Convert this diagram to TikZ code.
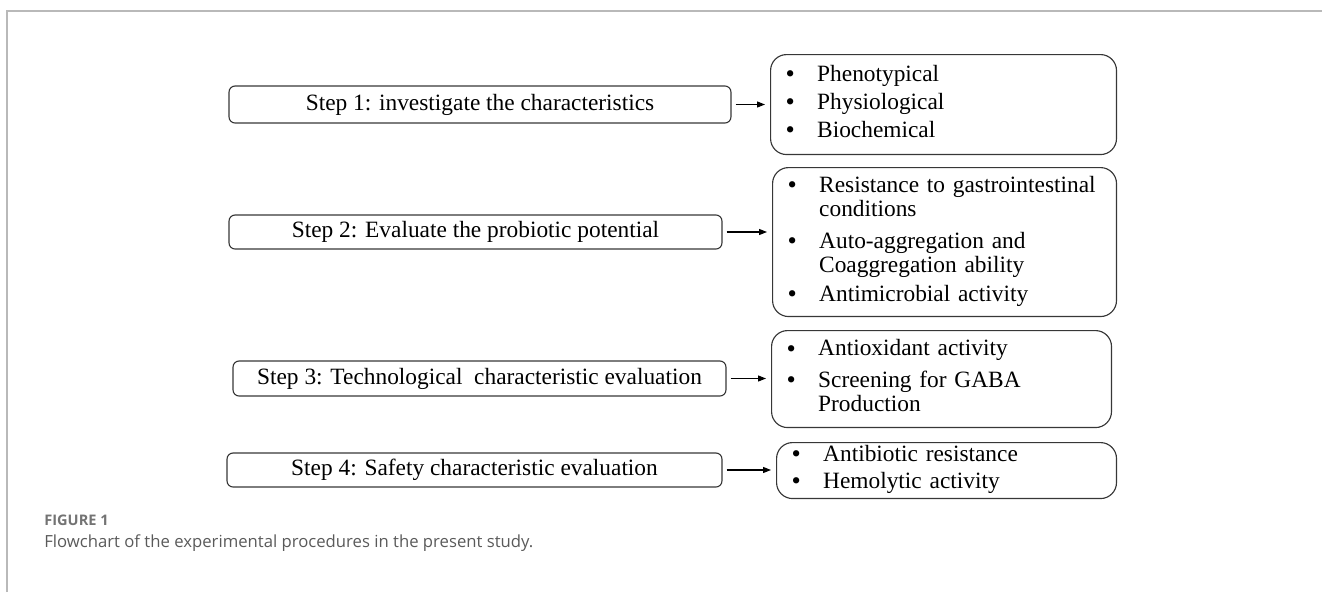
\documentclass[tikz,border=0pt]{standalone}
\usepackage{fontspec}
\setmainfont{Liberation Serif}
\newfontfamily\capfont{Open Sans}
\usepackage{tikz}
\usetikzlibrary{arrows.meta, positioning}
\definecolor{boxline}{RGB}{55, 55, 55}
\definecolor{frameline}{RGB}{185, 185, 185}
\definecolor{captext}{RGB}{90, 90, 90}
\newcommand{\stepfont}{\fontsize{13.3}{13.6}\selectfont}
\newcommand{\bul}{\raisebox{-0.6pt}{\fontsize{15}{13.6}\selectfont\textbullet}}

\begin{document}
\begin{tikzpicture}[x=0.02cm, y=-0.02cm,
    stepbox/.style={draw=boxline, line width=0.65pt, rounded corners=0.12cm, inner sep=0pt, font=\stepfont},
    listbox/.style={draw=boxline, line width=0.65pt, rounded corners=0.32cm, anchor=north west, align=left, inner xsep=0.3cm, inner ysep=0pt, font=\stepfont},
    link/.style={line width=0.6pt, -{Triangle[length=0.16cm, width=0.12cm]}, shorten <=0.08cm, shorten >=0.1cm}
]
    \useasboundingbox (0,0) rectangle (1322,592);
    \draw[frameline, line width=1pt] (7,592) -- (7,11) -- (1322,11);

    \node[stepbox, minimum width=10.04cm, minimum height=0.74cm] (s1) at (480,104.5) {Step 1: investigate the characteristics\hspace{20pt}};
    \node[stepbox, minimum width=9.86cm, minimum height=0.68cm] (s2) at (475.5,232) {Step 2: Evaluate the probiotic potential\hspace{12pt}};
    \node[stepbox, minimum width=9.86cm, minimum height=0.70cm] (s3) at (479.5,378.5) {Step 3: Technological\ \ characteristic evaluation\hspace{8pt}};
    \node[stepbox, minimum width=9.90cm, minimum height=0.68cm] (s4) at (474.5,470) {Step 4: Safety characteristic evaluation\hspace{12pt}};

    \node[listbox, text width=6.32cm, minimum height=2.00cm] (r1) at (770,54) {%
        \begin{tabular}{@{}p{18pt}@{}l@{}}
        \bul & Phenotypical\\[2.3pt]
        \bul & Physiological\\[2.3pt]
        \bul & Biochemical
        \end{tabular}};
    \node[listbox, text width=6.28cm, minimum height=2.98cm] (r2) at (772,167) {%
        \begin{tabular}{@{}p{18pt}@{}l@{}}
        \bul & Resistance to gastrointestinal\\
         & conditions\\[4.5pt]
        \bul & Auto-aggregation and\\
         & Coaggregation ability\\[2.8pt]
        \bul & Antimicrobial activity
        \end{tabular}};
    \node[listbox, text width=6.20cm, minimum height=1.94cm] (r3) at (771,330) {%
        \begin{tabular}{@{}p{18pt}@{}l@{}}
        \bul & Antioxidant activity\\[4.5pt]
        \bul & Screening for GABA\\
         & Production
        \end{tabular}};
    \node[listbox, text width=6.20cm, minimum height=1.12cm] (r4) at (776,442) {%
        \begin{tabular}{@{}p{18pt}@{}l@{}}
        \bul & Antibiotic resistance\\[1.7pt]
        \bul & Hemolytic activity
        \end{tabular}};

    \draw[link] (s1.east) -- (s1.east -| r1.west);
    \draw[link] (s2.east) -- (s2.east -| r2.west);
    \draw[link] (s3.east) -- (s3.east -| r3.west);
    \draw[link] (s4.east) -- (s4.east -| r4.west);

    \node[anchor=west, inner sep=0pt, font=\capfont\bfseries\fontsize{8.3}{10}\selectfont, text=captext!85] (fig) at (44,520) {FIGURE 1};
    \node[anchor=west, inner sep=0pt, font=\capfont\fontsize{9.5}{12}\selectfont, text=captext] (cap) at (44,543) {Flowchart of the experimental procedures in the present study.};
\end{tikzpicture}
\end{document}
